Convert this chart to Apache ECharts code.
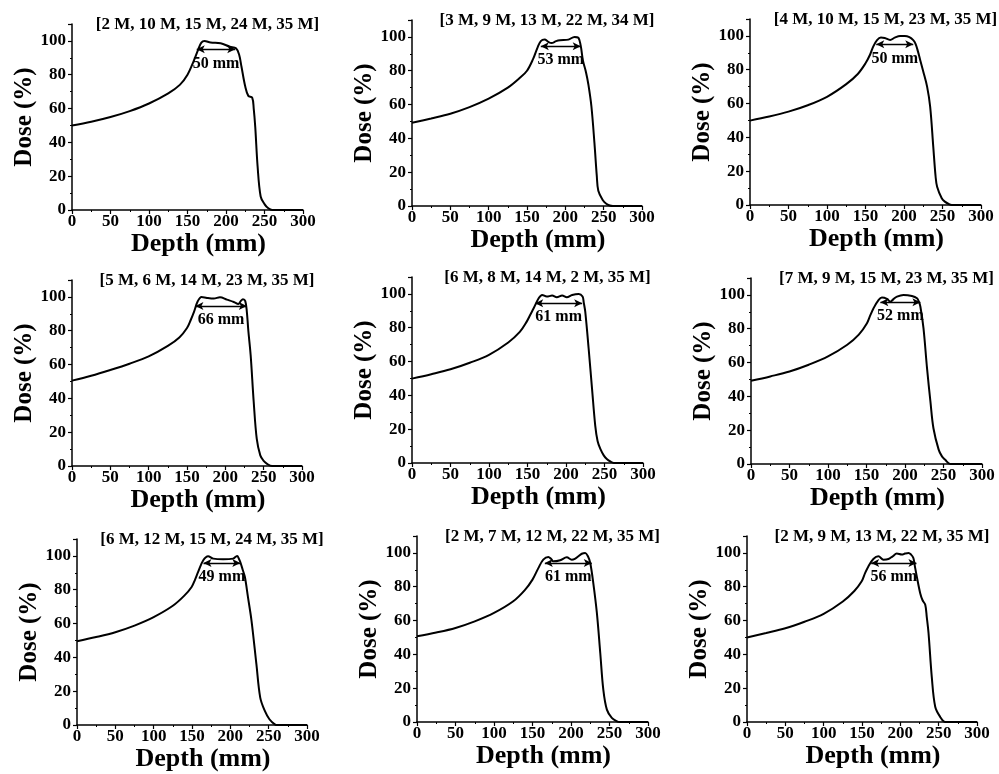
<!DOCTYPE html>
<html>
<head>
<meta charset="utf-8">
<title>Dose vs Depth</title>
<script src="https://cdn.jsdelivr.net/npm/echarts@6/dist/echarts.min.js"></script>
<style>
  html, body { margin: 0; padding: 0; background: #fff; }
  #main { width: 999px; height: 774px; }
</style>
</head>
<body>
<div id="main"></div>
<script>
// panel titles (energy layer weights)
var titles = [
  '[2 M, 10 M, 15 M, 24 M, 35 M]',
  '[3 M, 9 M, 13 M, 22 M, 34 M]',
  '[4 M, 10 M, 15 M, 23 M, 35 M]',
  '[5 M, 6 M, 14 M, 23 M, 35 M]',
  '[6 M, 8 M, 14 M, 2 M, 35 M]',
  '[7 M, 9 M, 15 M, 23 M, 35 M]',
  '[6 M, 12 M, 15 M, 24 M, 35 M]',
  '[2 M, 7 M, 12 M, 22 M, 35 M]',
  '[2 M, 9 M, 13 M, 22 M, 35 M]'
];
// plateau width labels
var widthLabels = ['50 mm', '53 mm', '50 mm', '66 mm', '61 mm', '52 mm', '49 mm', '61 mm', '56 mm'];
// arrow: [start depth, end depth, dose level]
var arrows = [
  [162, 212, 95], [168, 220, 94.5], [164, 212, 95],
  [161, 228, 94.6], [160, 221, 94.5], [168, 220, 95.7],
  [165, 213, 95.8], [166, 227, 94], [162, 221, 94]
];

// depth-dose curves, [depth mm, dose %]
var p1 = [[0,50],[25,52.2],[50,55],[75,58.5],[100,63],[125,69],[140,74],[150,80],[158,88],[164,95],[168,99],[172,100],[180,99],[193,98.6],[205,96.6],[213,95.6],[217,92],[220,85],[225,73],[229,67.5],[234,66.5],[236,60],[238,49],[241,26],[245,8],[250,3.5],[255,1],[260,0],[300,0]];
var p2 = [[0,49.2],[25,51.8],[50,54.6],[75,58.5],[100,63.5],[125,70],[140,75.5],[150,80],[158,87],[164,94],[168,97.5],[173,98.4],[178,97],[182,96.4],[188,97.5],[193,98],[204,98.4],[212,100],[217,99.5],[220,95],[223,86],[227,79],[230,72],[234,59],[238,37],[241,18],[243,9],[249,3.4],[253,1.5],[258,0.3],[262,0],[300,0]];
var p3 = [[0,49.9],[25,52.3],[50,55.2],[75,59],[100,64],[125,71.5],[140,77.5],[150,83.8],[156,89],[160,93.7],[165,97.5],[170,99],[175,98.8],[182,97.6],[188,99],[195,100],[201,100],[207,99.3],[212,97.5],[215,95.3],[218,91],[221,85.8],[225,79],[230,70],[234,58],[238,34.5],[241,17],[243,10.8],[249,4],[253,2],[258,0.6],[262,0],[300,0]];
var p4 = [[0,50.5],[25,53.4],[50,56.8],[75,60.5],[100,64.8],[125,71],[140,76],[150,81.6],[155,86.5],[159,91],[164,97.4],[169,100],[176,99.4],[185,99],[193,99.8],[202,98.4],[211,97],[217,95.8],[220,97.5],[223,98.6],[226,97.5],[228,91.5],[230,80],[233,65.7],[237,38],[241,16],[245.6,6.3],[250,3],[254,1.4],[261,0],[300,0]];
var p5 = [[0,49.9],[25,52.5],[50,55.4],[75,59.3],[100,64],[125,71.3],[140,77.5],[149,83.6],[154,88],[158,91.5],[164.5,97.4],[169,99.4],[175,98.4],[182,99],[188,98],[195,99],[201,98],[208,99.4],[216.5,100],[221.5,98.4],[223,95],[225,89.5],[229.4,67.7],[233.8,44],[238,22],[241,13],[244.6,8.3],[249,4.5],[253,2.4],[258,0.8],[262,0],[300,0]];
var p6 = [[0,49.2],[25,51.8],[50,54.7],[75,58.7],[100,63.6],[125,70.5],[140,76.5],[150.6,83.3],[155,88],[159,92],[165.8,97],[170,98.4],[176.6,97.6],[181,96],[185,97.5],[189.6,99],[198,100],[209,99.4],[215.6,98],[218,96],[220,93],[224,80.3],[228.6,56.7],[233,37],[237,21],[243.7,8.5],[248,4.5],[252,2.6],[259,0],[300,0]];
var p7 = [[0,49.5],[25,52],[50,54.9],[75,58.8],[100,63.8],[125,70.5],[140,76.5],[149.5,81.6],[154,86],[158,90.5],[164.7,97.4],[171,99.8],[177.7,98.4],[190.7,98],[203.7,98.4],[207,99.5],[209,100],[211,98.5],[213,96.4],[216,92],[219,87.5],[223,75.6],[227.6,61.8],[234,36],[239,16.2],[245,8.3],[251,3.4],[258,0.4],[262,0],[300,0]];
var p8 = [[0,50.7],[25,52.9],[50,55.6],[75,59.5],[100,64.5],[125,71.4],[140,78],[150,84.2],[157.6,91],[164,96],[170.6,97.6],[174,96.5],[177,95],[186,95.7],[194.5,97.4],[201,96],[205,96.5],[209.7,98],[214,99.5],[218.4,100],[222,98],[225,94],[229,82],[233.6,64.5],[238,40.8],[242,19],[246.6,7.3],[253,2.4],[259.7,0.4],[263,0],[300,0]];
var p9 = [[0,50],[25,52.6],[50,55.4],[75,59.3],[100,64],[125,71.3],[140,77.5],[149.6,83.2],[154,88],[158.3,92],[164.8,96.4],[171.4,98],[178,96],[184.5,96.4],[190,98],[195.4,99.6],[202,99],[206,99.6],[210.6,100],[214,99],[217,97],[219,92],[221.5,86],[226,76],[229,72],[232.5,69.3],[234.5,62],[236.8,52.5],[241,26.7],[245.5,9],[252,3],[258.6,0],[300,0]];
var curves = [p1, p2, p3, p4, p5, p6, p7, p8, p9];

// grid boxes: left, top, width (pixels)
var boxes = [
  [72, 24, 231], [412, 20, 230], [750, 19, 231],
  [72, 280, 230], [412, 277, 231], [751, 278, 231],
  [77, 539, 230], [417, 536, 231], [747, 536, 230]
];
var boxH = 186;

var font = 'Liberation Serif';
var chart = echarts.init(document.getElementById('main'));

var grid = [], xAxis = [], yAxis = [], series = [], graphic = [];
for (var i = 0; i < 9; i++) {
  var b = boxes[i];
  grid.push({ left: b[0], top: b[1], width: b[2], height: boxH });
  xAxis.push({
    type: 'value', gridIndex: i, min: 0, max: 300, interval: 50,
    name: 'Depth (mm)', nameLocation: 'middle', nameGap: 21,
    nameTextStyle: { fontFamily: font, fontWeight: 'bold', fontSize: 26, color: '#000', padding: [0, 0, 0, 22] },
    axisLine: { onZero: false, lineStyle: { color: '#000', width: 1.5 } },
    axisTick: { show: true, length: 4, lineStyle: { color: '#000', width: 1.2 } },
    minorTick: { show: true, splitNumber: 2, length: 2, lineStyle: { color: '#000' } },
    axisLabel: { fontFamily: font, fontWeight: 'bold', fontSize: 17, color: '#000', margin: 3 },
    splitLine: { show: false }
  });
  yAxis.push({
    type: 'value', gridIndex: i, min: 0, max: 110, interval: 20,
    name: 'Dose (%)', nameLocation: 'middle', nameGap: 35,
    nameTextStyle: { fontFamily: font, fontWeight: 'bold', fontSize: 25, color: '#000' },
    axisLine: { show: true, onZero: false, lineStyle: { color: '#000', width: 1.5 } },
    axisTick: { show: true, length: 4, lineStyle: { color: '#000', width: 1.2 } },
    minorTick: { show: true, splitNumber: 2, length: 2, lineStyle: { color: '#000' } },
    axisLabel: {
      fontFamily: font, fontWeight: 'bold', fontSize: 17, color: '#000', margin: 6,
      formatter: function (v) { return v > 100 ? '' : v; }
    },
    splitLine: { show: false }
  });
  var a = arrows[i];
  series.push({
    type: 'line', xAxisIndex: i, yAxisIndex: i,
    data: curves[i], showSymbol: false, smooth: 0.35,
    lineStyle: { color: '#000', width: 2 },
    z: 3,
    markLine: {
      silent: true, symbol: ['arrow', 'arrow'], symbolSize: [6, 8],
      lineStyle: { color: '#000', width: 1.3, type: 'solid' },
      label: {
        show: true, position: 'insideMiddleBottom', distance: 6,
        formatter: widthLabels[i], fontFamily: font, fontWeight: 'bold', fontSize: 16, color: '#000'
      },
      data: [[{ coord: [a[0], a[2]] }, { coord: [a[1], a[2]] }]]
    }
  });
  graphic.push({
    type: 'text', x: b[0] + b[2] / 2 + 20, y: b[1] + 1,
    style: {
      text: titles[i], fontFamily: font, fontWeight: 'bold', fontSize: 17,
      fill: '#000', align: 'center', verticalAlign: 'middle'
    }
  });
}

chart.setOption({
  animation: false,
  grid: grid, xAxis: xAxis, yAxis: yAxis, series: series, graphic: graphic
});
</script>
</body>
</html>
